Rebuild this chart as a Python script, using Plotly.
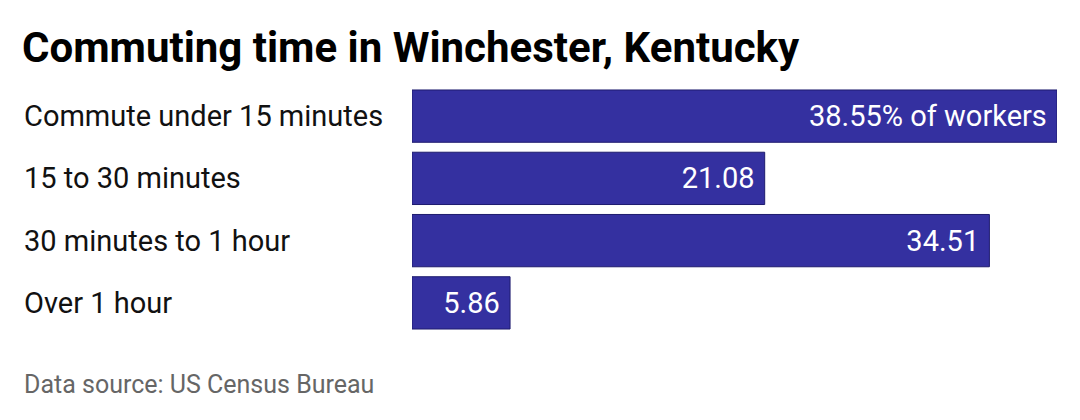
import plotly.graph_objects as go

categories = ["Commute under 15 minutes", "15 to 30 minutes", "30 minutes to 1 hour", "Over 1 hour"]
values = [38.55, 21.08, 34.51, 5.86]
bar_labels = ["38.55% of workers ", "21.08 ", "34.51 ", "5.86 "]

W, H = 1080, 420
L, R, T, B = 404, 31, 77, 94
pw = W - L - R
ph = H - T - B

fig = go.Figure(go.Bar(
    x=values, y=categories, orientation="h",
    marker=dict(color="#3430a0", line=dict(color="#1e1b6e", width=1)),
    text=bar_labels, textposition="inside", insidetextanchor="end",
    textfont=dict(family="Roboto", size=29, color="white"),
    hoverinfo="skip",
))
for c in categories:
    fig.add_annotation(xref="paper", yref="y", x=(14 - L) / pw, y=c, text=c,
                       showarrow=False, xanchor="left",
                       font=dict(family="Roboto", size=29, color="#111"))
fig.add_annotation(xref="paper", yref="paper", x=(14 - L) / pw, y=(H - 377 - B) / ph,
                   text="Data source: US Census Bureau", showarrow=False, xanchor="left",
                   yanchor="middle", font=dict(family="Roboto", size=25, color="#666"))
fig.update_layout(
    width=W, height=H, margin=dict(l=L, r=R, t=T, b=B),
    paper_bgcolor="white", plot_bgcolor="white", bargap=0.16,
    title=dict(text="<b>Commuting time in Winchester, Kentucky</b>", x=14 / W, xanchor="left",
               y=1 - 39 / H, yanchor="middle", font=dict(family="Roboto", size=42, color="#000")),
    xaxis=dict(range=[0, max(values)], visible=False, fixedrange=True),
    yaxis=dict(autorange="reversed", showticklabels=False, showgrid=False, zeroline=False),
    showlegend=False,
)
fig.write_html("out.html")
